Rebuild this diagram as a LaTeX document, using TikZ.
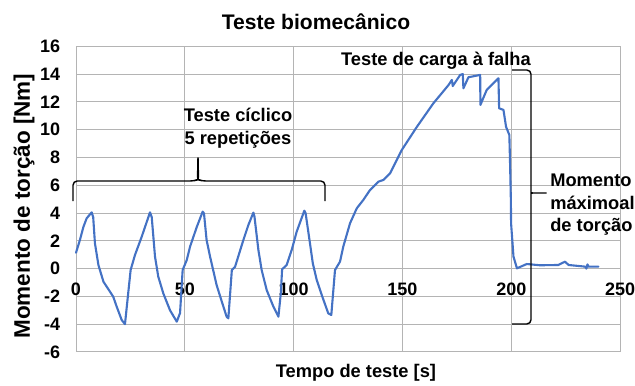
\documentclass[tikz,border=0pt]{standalone}
\usepackage{fontspec}
\setmainfont{Liberation Sans}
\usetikzlibrary{positioning}

\definecolor{gridgray}{RGB}{180,180,180}
\definecolor{curveblue}{RGB}{68,114,196}

\tikzset{
    gridline/.style={draw=gridgray, line width=0.7pt},
    curve/.style={draw=curveblue, line width=1.5pt, line join=round, line cap=round},
    bracket/.style={draw=black, line width=1pt, rounded corners=3pt},
    lbl/.style={font=\bfseries\fontsize{13}{15.6}\selectfont, inner sep=0pt},
    linha/.style={lbl, text height=9.5pt, text depth=2.5pt},
    ticklbl/.style={font=\bfseries\fontsize{12.8}{15}\selectfont, inner sep=0pt}
}

\begin{document}
\begin{tikzpicture}[x=0.025cm, y=-0.025cm]
    \useasboundingbox (0,0) rectangle (635,386);

    % titulo e eixos
    \node[lbl, font=\bfseries\fontsize{15}{18}\selectfont] (titulo) at (316,22) {Teste biomecânico};
    \node[lbl, font=\bfseries\fontsize{16}{19}\selectfont, rotate=90] (eixoy) at (24,206) {Momento de torção [Nm]};
    \node[lbl] (eixox) at (356,373) {Tempo de teste [s]};

    \begin{scope}[shift={(76,268.6)}, x=0.0544cm, y=0.34725cm]
        \foreach \y in {-6,-4,...,16}
            \draw[gridline] (0,\y) -- (250,\y);
        \foreach \x in {0,50,...,250}
            \draw[gridline] (\x,-6) -- (\x,16);
        \foreach \y in {-6,-4,...,16}
            \node[ticklbl, anchor=east] (ytick\y) at (-7.2,\y) {\y};
        \foreach \x in {0,50,...,250}
            \node[ticklbl] (xtick\x) at (\x,-1.47) {\x};

        % ciclos e carga a falha
        \draw[curve] plot coordinates {
            (0,1.14) (1.8,2.06) (3.4,3.0) (4.9,3.62) (7.2,4.05) (7.9,3.7) (8.7,1.82) (10.3,0.26)
            (12.6,-0.94) (14.9,-1.49) (17.1,-2.02) (18.7,-2.74) (21,-3.7) (22.5,-4.0)
            (25.1,-0.1) (27.1,0.98) (30.2,2.3) (34,4.05) (34.8,3.7) (36.3,0.86) (37.8,-0.58)
            (40.1,-1.78) (43.2,-3.0) (46.3,-3.82) (47.8,-3.2) (49,-0.1)
            (50.9,0.62) (52.4,1.58) (55.5,3.0) (58.2,4.1) (58.8,3.98) (60,2.06) (61.6,0.86)
            (64.6,-1.18) (67,-2.38) (69.2,-3.46) (70,-3.58) (71.6,-0.1)
            (73.1,0.14) (76.9,2.06) (79.2,3.14) (81.5,4.03) (82,3.74) (83.8,1.34) (85.3,-0.1)
            (87.6,-1.54) (90.7,-2.74) (93,-3.46) (94.1,-1.78) (94.7,-0.05)
            (96.8,0.26) (99.1,1.34) (101.4,2.66) (104.9,4.17) (105.5,3.98) (107.5,1.82)
            (108.8,0.38) (110.6,-0.82) (112.9,-1.9) (115.9,-3.22) (117.3,-3.34) (119,-0.1)
            (121.3,0.5) (122.8,1.58) (125.9,3.26) (129,4.34) (132,4.94) (135.1,5.66)
            (139,6.26) (141.2,6.38) (144.3,6.86) (149.7,8.54) (156.6,10.2) (164.2,11.9)
            (171.1,13.2) (172.7,13.58) (173.1,13.14) (176.5,13.94) (177.7,14.0) (178,12.98)
            (180.3,13.77) (185.7,13.94) (185.8,11.78) (188.7,12.86) (194.1,13.7) (194.4,11.54)
            (196.4,11.42) (197.6,10.2) (199.1,9.62) (199.4,7.8) (199.8,4.94) (199.9,3.26)
            (201,0.86) (202.6,0.02) (207.1,0.33) (213.2,0.24) (221.6,0.26) (224.7,0.5)
            (226.3,0.26) (234,0.14) (234.5,0.0) (235,0.3) (235.5,0.14) (240,0.14)
        };
    \end{scope}

    % chaves
    \draw[bracket] (73,201) -- (73,181) -- (194.5,181) .. controls (197.5,180) .. (198,155)
        .. controls (198.5,180) .. (201.5,181) -- (325,181) -- (325,201);
    \draw[bracket] (512,70) -- (531,70) -- (531,189) .. controls (531,193) .. (549,193)
        .. controls (531,193) .. (531,197) -- (531,324) -- (512,324);

    \node[linha] (ciclico) at (238,117) {Teste cíclico};
    \node[linha, below=3.6pt of ciclico] (repet) {5 repetições};
    \node[lbl] (falha) at (436,61) {Teste de carga à falha};
    \node[linha, anchor=west] (momento) at (550,182) {Momento};
    \node[linha, below=3.4pt of momento.south west, anchor=north west] (maximo) {máximoal};
    \node[linha, below=3.4pt of maximo.south west, anchor=north west] (torcao) {de torção};
\end{tikzpicture}
\end{document}
